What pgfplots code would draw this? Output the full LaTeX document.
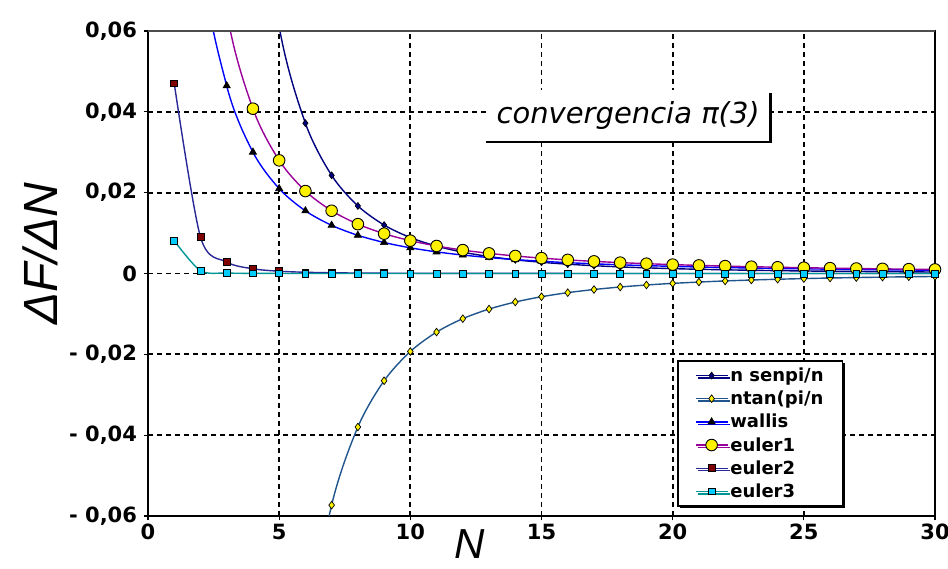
\documentclass[border=0pt]{standalone}
\usepackage{pgfplots}
\pgfplotsset{compat=1.18}
\usepackage{fontspec}
\setmainfont{Liberation Sans}
\newfontfamily\dejavu{DejaVu Sans}[BoldFont={DejaVu Sans Bold},ItalicFont={DejaVu Sans Oblique}]
\usetikzlibrary{shadows,calc}

\definecolor{cNsen}{RGB}{0,0,128}
\definecolor{cNtan}{RGB}{31,85,140}
\definecolor{cWallis}{RGB}{0,0,255}
\definecolor{cEulerA}{RGB}{153,0,153}
\definecolor{cEulerB}{RGB}{40,40,150}
\definecolor{cEulerC}{RGB}{0,150,150}
\definecolor{cMarkB}{RGB}{128,0,0}
\definecolor{cMarkC}{RGB}{0,204,255}

% successive differences F(n+1)-F(n) of each approximation of pi
\pgfplotstableread{
n d
3 0.230351
4 0.110499
5 0.061074
6 0.037186
7 0.024281
8 0.016714
9 0.011989
10 0.008888
11 0.006771
12 0.005275
13 0.004189
14 0.003382
15 0.002770
16 0.002297
17 0.001925
18 0.001630
19 0.001392
20 0.001199
21 0.001039
22 0.000906
23 0.000796
24 0.000702
25 0.000623
26 0.000555
27 0.000497
28 0.000446
29 0.000402
30 0.000365
}\nsen

\pgfplotstableread{
n d
4 -0.367287
5 -0.168611
6 -0.093080
7 -0.057313
8 -0.037977
9 -0.026535
10 -0.019306
11 -0.014501
12 -0.011176
13 -0.008805
14 -0.007061
15 -0.005750
16 -0.004746
17 -0.003966
18 -0.003346
19 -0.002850
20 -0.002448
21 -0.002120
22 -0.001845
23 -0.001617
24 -0.001425
25 -0.001263
26 -0.001124
27 -0.001005
28 -0.000903
29 -0.000812
30 -0.000736
}\ntan

\pgfplotstableread{
n d
1 0.177778
2 0.081270
3 0.046440
4 0.030022
5 0.020994
6 0.015504
7 0.011916
8 0.009445
9 0.007669
10 0.006351
11 0.005346
12 0.004562
13 0.003939
14 0.003435
15 0.003022
16 0.002679
17 0.002392
18 0.002148
19 0.001940
20 0.001760
21 0.001605
22 0.001469
23 0.001350
24 0.001244
25 0.001151
26 0.001068
27 0.000993
28 0.000926
29 0.000866
30 0.000811
}\wallis

\pgfplotstableread{
n d
1 0.289123
2 0.119125
3 0.064875
4 0.040775
5 0.027989
6 0.020397
7 0.015524
8 0.012210
9 0.009854
10 0.008120
11 0.006806
12 0.005788
13 0.004982
14 0.004333
15 0.003803
16 0.003365
17 0.002998
18 0.002689
19 0.002424
20 0.002197
21 0.002001
22 0.001830
23 0.001679
24 0.001547
25 0.001429
26 0.001325
27 0.001231
28 0.001148
29 0.001072
30 0.001004
}\eulerA

\pgfplotstableread{
n d
1 0.047038
2 0.009044
3 0.002846
4 0.001163
5 0.000561
6 0.000302
7 0.000178
8 0.000110
9 0.000073
10 0.000050
11 0.000035
12 0.000025
13 0.000019
14 0.000014
15 0.000011
16 0.000009
17 0.000007
18 0.000006
19 0.000005
20 0.000004
21 0.000003
22 0.000003
23 0.000002
24 0.000002
25 0.000002
26 0.000001
27 0.000001
28 0.000001
29 0.000001
30 0.000001
}\eulerB

\pgfplotstableread{
n d
1 0.008105
2 0.000707
3 0.000125
4 0.000033
5 0.000011
6 0.000004
7 0.000002
8 0.000001
9 0.000001
10 0.000000
11 0.000000
12 0.000000
13 0.000000
14 0.000000
15 0.000000
16 0.000000
17 0.000000
18 0.000000
19 0.000000
20 0.000000
21 0.000000
22 0.000000
23 0.000000
24 0.000000
25 0.000000
26 0.000000
27 0.000000
28 0.000000
29 0.000000
30 0.000000
}\eulerC

\begin{document}
\begin{tikzpicture}
\begin{axis}[
  name=main,
  scale only axis, width=787pt, height=485pt,
  xmin=0, xmax=30, ymin=-0.06, ymax=0.06,
  xtick={0,5,...,30},
  xticklabels={0,5,10,15,20,25,30},
  ytick={-0.06,-0.04,-0.02,0,0.02,0.04,0.06},
  yticklabels={{- 0,06},{- 0,04},{- 0,02},0,{0,02},{0,04},{0,06}},
  scaled y ticks=false,
  tick label style={font=\dejavu\bfseries\fontsize{21}{24}\selectfont},
  yticklabel style={xshift=-3pt},
  xtick pos=left, ytick pos=left,
  tick align=center, major tick length=9pt,
  every tick/.style={black, line width=1.2pt},
  grid=major,
  major grid style={black, line width=1.8pt, dash pattern=on 5pt off 4pt},
  axis line style={black, line width=1.6pt},
  every axis plot/.append style={line width=1.4pt},
  legend style={
    at={(rel axis cs:0.6722,0.3216)}, anchor=north west,
    draw=black, line width=1.8pt, fill=white,
    drop shadow={shadow xshift=2.5pt, shadow yshift=-2.5pt, fill=black, opacity=1},
    font=\dejavu\bfseries\fontsize{18}{20}\selectfont,
    inner xsep=17pt, inner ysep=5pt, row sep=4pt,
  },
  legend cell align=left,
  legend image code/.code={
    \draw[mark repeat=2, mark phase=2, #1] plot coordinates {(0pt,0pt) (16pt,0pt) (32pt,0pt)};
  },
]
\addplot[cNsen, smooth, mark=diamond*, mark size=3.5pt,
  mark options={solid, fill=cNsen, draw=black, line width=0.6pt}] table[x=n, y=d] {\nsen};
\addlegendentry{n senpi/n}
\addplot[cNtan, smooth, mark=diamond*, mark size=3.8pt,
  mark options={solid, fill=yellow, draw=black, line width=0.7pt}] table[x=n, y=d] {\ntan};
\addlegendentry{ntan(pi/n}
\addplot[cWallis, smooth, mark=triangle*, mark size=4.2pt,
  mark options={solid, fill=black, draw=black, line width=0.6pt}] table[x=n, y=d] {\wallis};
\addlegendentry{wallis}
\addplot[cEulerA, smooth, mark=*, mark size=5.8pt,
  mark options={solid, fill=yellow, draw=black, line width=0.9pt}] table[x=n, y=d] {\eulerA};
\addlegendentry{euler1}
\addplot[cEulerB, smooth, mark=square*, mark size=3.4pt,
  mark options={solid, fill=cMarkB, draw=black, line width=0.7pt}] table[x=n, y=d] {\eulerB};
\addlegendentry{euler2}
\addplot[cEulerC, smooth, mark=square*, mark size=3.4pt,
  mark options={solid, fill=cMarkC, draw=black, line width=0.7pt}] table[x=n, y=d] {\eulerC};
\addlegendentry{euler3}
\end{axis}

% the top edge of the frame is drawn in grey
\draw[line width=1.6pt, black!70] (main.north west) -- (main.north east);

% axis titles
\node[font=\itshape\fontsize{48}{54}\selectfont, rotate=90, anchor=center, inner sep=0pt]
  at ($(main.south west)+(-108pt,262pt)$) {ΔF/ΔN};
\node[font=\itshape\fontsize{42}{46}\selectfont, anchor=center, inner sep=0pt]
  at ($(main.south west)+(322pt,-28pt)$) {N};

% boxed caption with a shadow on its lower and right sides
\node[fill=white, minimum width=284pt, minimum height=52pt, anchor=south west, inner sep=0pt,
  font=\dejavu\itshape\fontsize{29}{32}\selectfont] (cap)
  at ($(main.south west)+(338pt,374pt)$) {convergencia π(3)};
\draw[line width=2.2pt] (cap.south west) -- (cap.south east) -- ([yshift=-3pt]cap.north east);

\pgfresetboundingbox
\path[use as bounding box] ($(main.south west)+(-148pt,-52pt)$) rectangle ($(main.north east)+(13pt,31pt)$);
\end{tikzpicture}
\end{document}
